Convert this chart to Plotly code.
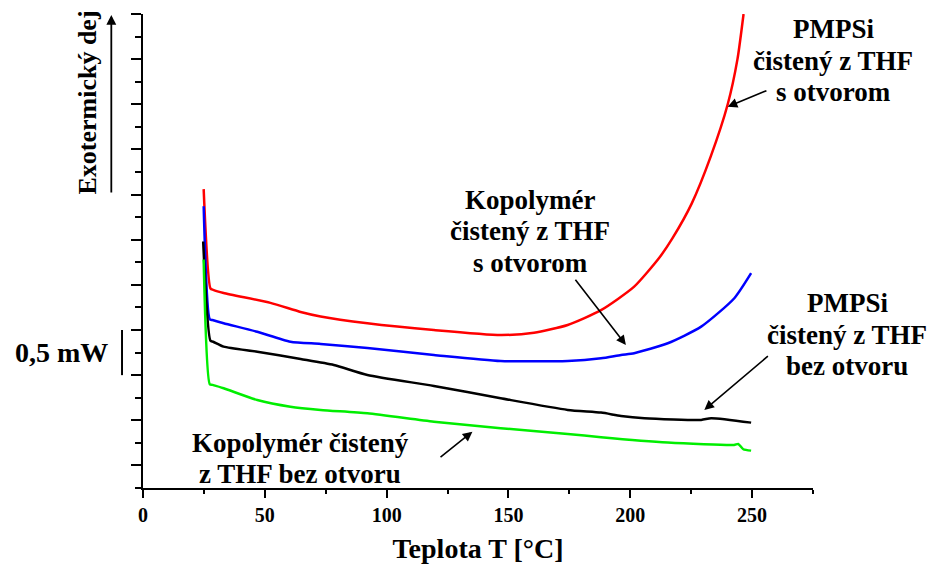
import plotly.graph_objects as go

# DSC traces: temperature [°C] and heat flow [mW, arbitrary offset]
t_pmpsi_open = [24.9, 27.7, 28.8, 33.1, 52.3, 64.7, 72.9, 92.1, 119.4, 146.8, 160.5, 174.3,
                188.0, 201.6, 211.9, 217.4, 225.2, 233.0, 240.0, 244.0, 246.5]
q_pmpsi_open = [3.06, 1.96, 1.945, 1.91, 1.80, 1.70, 1.65, 1.575, 1.50, 1.445, 1.47, 1.556,
                1.72, 1.98, 2.30, 2.52, 2.90, 3.42, 4.00, 4.50, 5.00]

t_kopol_open = [24.9, 27.4, 28.5, 33.1, 46.9, 60.5, 72.9, 92.1, 119.4, 146.8, 174.3, 188.0,
                196.2, 201.6, 215.4, 229.1, 242.7, 249.6]
q_kopol_open = [2.87, 1.62, 1.61, 1.575, 1.48, 1.37, 1.346, 1.30, 1.224, 1.157, 1.157, 1.187,
                1.224, 1.243, 1.353, 1.537, 1.852, 2.129]

t_pmpsi_closed = [24.7, 27.7, 28.8, 33.1, 46.9, 64.7, 78.3, 92.1, 119.4, 146.8, 174.3, 188.0,
                  196.2, 205.8, 229.1, 233.2, 249.6]
q_pmpsi_closed = [2.48, 1.38, 1.37, 1.316, 1.26, 1.179, 1.113, 1.002, 0.88, 0.744, 0.615, 0.585,
                  0.548, 0.523, 0.504, 0.523, 0.474]

t_kopol_closed = [24.9, 27.4, 28.5, 33.1, 46.9, 60.5, 72.9, 92.1, 119.4, 146.8, 174.3, 188.0,
                  215.4, 242.6, 244.3, 246.4, 249.6]
q_kopol_closed = [2.28, 0.90, 0.892, 0.855, 0.725, 0.651, 0.615, 0.578, 0.485, 0.412, 0.349, 0.312,
                  0.253, 0.227, 0.238, 0.179, 0.164]

x_ticks = [0, 50, 100, 150, 200, 250]
y_major = [0.5 * i for i in range(11)]

SERIF = "Liberation Serif"
LINE_STEP = 0.0665  # vertical distance between label lines, paper units

fig = go.Figure()
for t, q, col in [
    (t_pmpsi_open, q_pmpsi_open, "#ff0000"),
    (t_kopol_open, q_kopol_open, "#0000ff"),
    (t_pmpsi_closed, q_pmpsi_closed, "#000000"),
    (t_kopol_closed, q_kopol_closed, "#00ee00"),
]:
    fig.add_trace(go.Scatter(x=t, y=q, mode="lines",
                             line=dict(color=col, width=2.5, shape="spline", smoothing=0.6),
                             showlegend=False))

font_lbl = dict(family=SERIF, size=27, color="black", weight="bold")

# curve labels: one annotation per line, top line position given (paper coordinates)
labels = [
    (["PMPSi", "čistený z THF", "s otvorom"], 1.030, 0.968),
    (["Kopolymér", "čistený z THF", "s otvorom"], 0.578, 0.608),
    (["PMPSi", "čistený z THF", "bez otvoru"], 1.051, 0.390),
    (["Kopolymér čistený", "z THF bez otvoru"], 0.235, 0.095),
]
for lines, px, py in labels:
    for i, txt in enumerate(lines):
        fig.add_annotation(text=txt, xref="paper", yref="paper", x=px, y=py - i * LINE_STEP,
                           showarrow=False, font=font_lbl, xanchor="center", yanchor="middle")

# pointer arrows (tip -> tail, data coordinates)
pointers = [
    (240.0, 3.973, 256.5, 4.158),
    (198.2, 1.334, 177.0, 2.073),
    (230.4, 0.615, 257.1, 1.224),
    (135.2, 0.374, 121.5, 0.080),
]
for x, y, ax, ay in pointers:
    fig.add_annotation(x=x, y=y, ax=ax, ay=ay, xref="x", yref="y", axref="x", ayref="y",
                       text="", showarrow=True, arrowhead=2, arrowsize=1.2,
                       arrowwidth=1.6, arrowcolor="black")

# exothermic direction
fig.add_annotation(text="Exotermický dej", xref="paper", yref="paper", x=-0.083, y=0.814,
                   textangle=-90, showarrow=False,
                   font=dict(family=SERIF, size=26, color="black", weight="bold"),
                   xanchor="center", yanchor="middle")
fig.add_annotation(xref="paper", yref="paper", x=-0.0473, y=0.998, ax=0, ay=179,
                   text="", showarrow=True, arrowhead=2, arrowsize=1.1,
                   arrowwidth=1.8, arrowcolor="black")

# 0,5 mW scale bar
fig.add_shape(type="line", xref="paper", yref="y", x0=-0.0313, x1=-0.0313, y0=1.0, y1=1.5,
              line=dict(color="black", width=2))
fig.add_annotation(text="0,5 mW", xref="paper", yref="y", x=-0.122, y=1.25,
                   showarrow=False, font=dict(family=SERIF, size=28, color="black", weight="bold"),
                   xanchor="center", yanchor="middle")

fig.update_xaxes(range=[0, 275], tickvals=x_ticks, ticktext=[str(v) for v in x_ticks],
                 ticks="outside", ticklen=8, tickwidth=2, tickcolor="black",
                 minor=dict(dtick=25, tick0=0, ticks="outside", ticklen=4, tickwidth=2,
                            tickcolor="black"),
                 showline=True, linewidth=2, linecolor="black", showgrid=False, zeroline=False,
                 automargin=False,
                 tickfont=dict(family=SERIF, size=20, color="black", weight="bold"),
                 title=dict(text="Teplota T [°C]", standoff=14,
                            font=dict(family=SERIF, size=28, color="black", weight="bold")))
fig.update_yaxes(range=[-0.25, 5.0], tickvals=y_major, showticklabels=False,
                 ticks="outside", ticklen=10, tickwidth=2, tickcolor="black",
                 minor=dict(dtick=0.25, tick0=0.25, ticks="outside", ticklen=6, tickwidth=2,
                            tickcolor="black"),
                 showline=True, linewidth=2, linecolor="black", showgrid=False, zeroline=False,
                 automargin=False)

fig.update_layout(width=938, height=564, margin=dict(l=143, r=125, t=14, b=76),
                  plot_bgcolor="white", paper_bgcolor="white")

fig.write_html("out.html")
